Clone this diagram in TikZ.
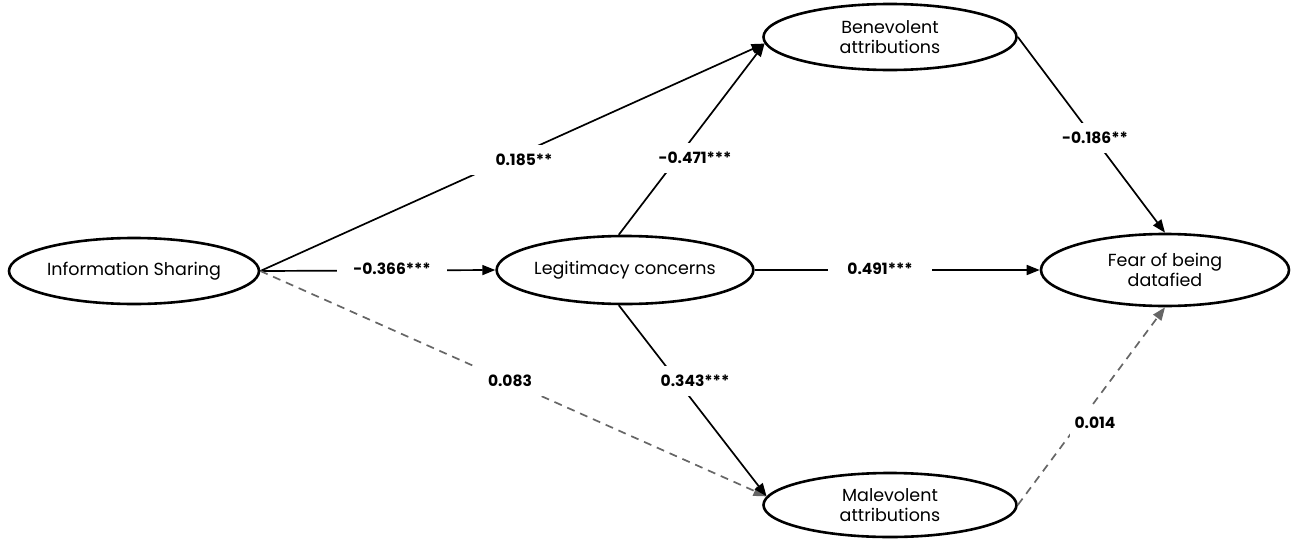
\documentclass[tikz,border=0pt]{standalone}
\usepackage{fontspec}
\setmainfont{Poppins}
\usetikzlibrary{arrows.meta,shapes.geometric}
\definecolor{dgray}{HTML}{666666}
\begin{document}
\begin{tikzpicture}[x=1pt,y=-1pt,
  latent/.style={ellipse,draw=black,line width=2.6pt,fill=white,inner sep=0pt,
    font=\fontsize{17.5}{20}\selectfont,align=center},
  path/.style={line width=1.7pt,-{Triangle[length=13pt,width=10pt]}},
  nspath/.style={path,draw=dgray,dash pattern=on 8pt off 6pt},
  coef/.style={fill=white,inner sep=0pt,minimum height=30pt,font=\fontsize{15.5}{18}\selectfont\bfseries}
]
\useasboundingbox (0,0) rectangle (1293,541);
\node[latent,minimum width=250pt,minimum height=66pt] (is) at (134,271) {Information Sharing};
\node[latent,minimum width=252pt,minimum height=68pt] (lc) at (625,270) {Legitimacy concerns};
\node[latent,minimum width=253pt,minimum height=66pt] (ba) at (890,37) {Benevolent\\attributions};
\node[latent,minimum width=253pt,minimum height=64pt] (ma) at (890,505) {Malevolent\\attributions};
\node[latent,minimum width=248pt,minimum height=72pt] (fd) at (1165,270) {Fear of being\\datafied};

\draw[path] (is.east) -- (ba.183);
\draw[path] (is.east) -- (lc.west);
\draw[nspath] (is.east) -- (ma.176);
\draw[path] (lc.100) -- (ba.183);
\draw[path] (lc.260) -- (ma.176);
\draw[path] (lc.east) -- (fd.west);
\draw[path] (ba.east) -- (fd.north);
\draw[nspath] (ma.east) -- (fd.south);

\node[coef,minimum width=108pt] (l1) at (524,160) {0.185**};
\node[coef,minimum width=110pt] (l2) at (392,269) {-0.366***};
\node[coef,minimum width=75pt] (l3) at (510,381) {0.083};
\node[coef,minimum width=80pt] (l4) at (695,158) {-0.471***};
\node[coef,minimum width=80pt] (l5) at (695,381) {0.343***};
\node[coef,minimum width=104pt] (l6) at (880,269) {0.491***};
\node[coef,minimum width=70pt] (l7) at (1095,138) {-0.186**};
\node[coef,minimum width=50pt] (l8) at (1095,423) {0.014};
\end{tikzpicture}
\end{document}
